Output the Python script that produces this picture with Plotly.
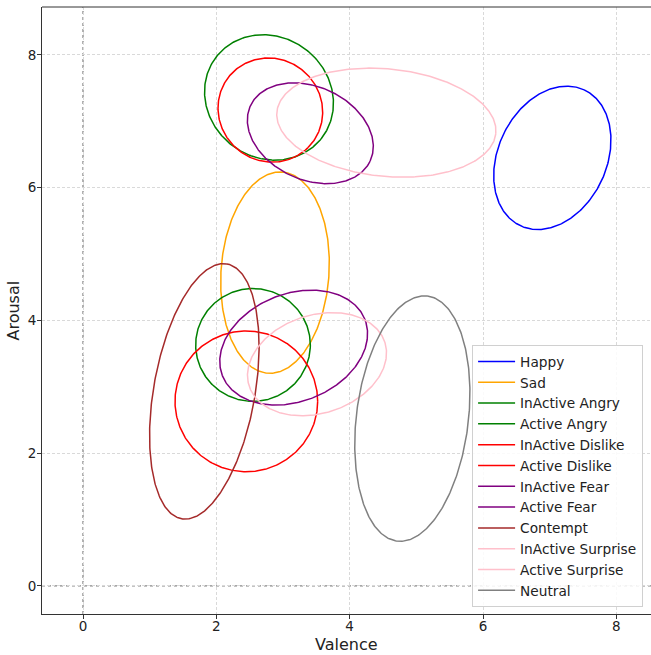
import numpy as np
import plotly.graph_objects as go

# Emotion ellipses (data units): centre, semi-axes, rotation (deg, counter-clockwise)
names = ["Happy", "Sad", "InActive Angry", "Active Angry", "InActive Dislike",
         "Active Dislike", "InActive Fear", "Active Fear", "Contempt",
         "InActive Surprise", "Active Surprise", "Neutral"]
colors = ["blue", "orange", "green", "green", "red", "red", "purple", "purple",
          "brown", "pink", "pink", "gray"]
center_x = [7.04, 2.88, 2.55, 2.79, 2.45, 2.81, 3.16, 3.41, 1.82, 3.51, 4.55, 4.94]
center_y = [6.45, 4.72, 3.63, 7.36, 2.78, 7.17, 3.59, 6.82, 2.93, 3.34, 6.98, 2.52]
semi_a = [1.13, 1.52, 0.86, 1.00, 1.07, 0.80, 1.15, 0.99, 1.95, 1.07, 1.65, 1.86]
semi_b = [0.815, 0.81, 0.85, 0.91, 1.06, 0.77, 0.81, 0.70, 0.76, 0.74, 0.81, 0.84]
angle_deg = [65, 86, 0, -38, 0, -45, 22, -25, 80, 18, -5.6, 83]

x_ticks = [0, 2, 4, 6, 8]
y_ticks = [0, 2, 4, 6, 8]

FONT = "DejaVu Sans"
fig = go.Figure()

t = np.linspace(0, 2 * np.pi, 361)
for n, c, cx, cy, a, b, ang in zip(names, colors, center_x, center_y, semi_a, semi_b, angle_deg):
    th = np.deg2rad(ang)
    ex = a * np.cos(t)
    ey = b * np.sin(t)
    xs = cx + ex * np.cos(th) - ey * np.sin(th)
    ys = cy + ex * np.sin(th) + ey * np.cos(th)
    fig.add_trace(go.Scatter(x=xs, y=ys, mode="lines", name=n,
                             line=dict(color=c, width=1.5), hoverinfo="skip"))

# zero reference lines
fig.add_shape(type="line", xref="x", yref="paper", x0=0, x1=0, y0=0, y1=1,
              line=dict(color="#888", width=1.3, dash="dot"), layer="below")
fig.add_shape(type="line", xref="paper", yref="y", x0=0, x1=1, y0=0, y1=0,
              line=dict(color="#888", width=1.3, dash="dot"), layer="below")
# top spine
fig.add_shape(type="line", xref="paper", yref="paper", x0=0, x1=1, y0=1, y1=1,
              line=dict(color="#333", width=1))

axis_common = dict(
    showgrid=True, gridcolor="#d9d9d9", gridwidth=0.8, griddash="3px,2px",
    zeroline=False, showline=True, linecolor="#333", linewidth=1,
    ticks="outside", ticklen=4, tickcolor="#333", automargin=False,
    tickfont=dict(family=FONT, size=13.5, color="#222"),
)

fig.update_layout(
    width=651, height=655,
    margin=dict(l=42, r=0, t=7, b=41, autoexpand=False),
    paper_bgcolor="white", plot_bgcolor="white",
    font=dict(family=FONT, size=14, color="#222"),
    xaxis=dict(range=[-0.615, 8.52], tickvals=x_ticks, ticklabelstandoff=-4, **axis_common),
    yaxis=dict(range=[-0.425, 8.723], tickvals=y_ticks, ticklabelstandoff=-2, **axis_common),
    legend=dict(x=0.987, y=0.0115, xanchor="right", yanchor="bottom",
                itemwidth=37,
                bgcolor="rgba(255,255,255,0.85)", bordercolor="#d0d0d0", borderwidth=1,
                font=dict(family=FONT, size=13.7, color="#222")),
    showlegend=True,
    annotations=[
        dict(text="Valence", xref="paper", yref="paper", x=0.5, y=-0.0502,
             xanchor="center", yanchor="middle", showarrow=False,
             font=dict(family=FONT, size=16, color="#222")),
        dict(text="Arousal", xref="paper", yref="paper", x=-0.0476, y=0.5,
             xanchor="center", yanchor="middle", showarrow=False, textangle=-90,
             font=dict(family=FONT, size=16, color="#222")),
    ],
)

fig.write_html("out.html", config={"displayModeBar": False},
               post_script="document.body.style.margin='0';document.body.style.overflow='hidden';")
